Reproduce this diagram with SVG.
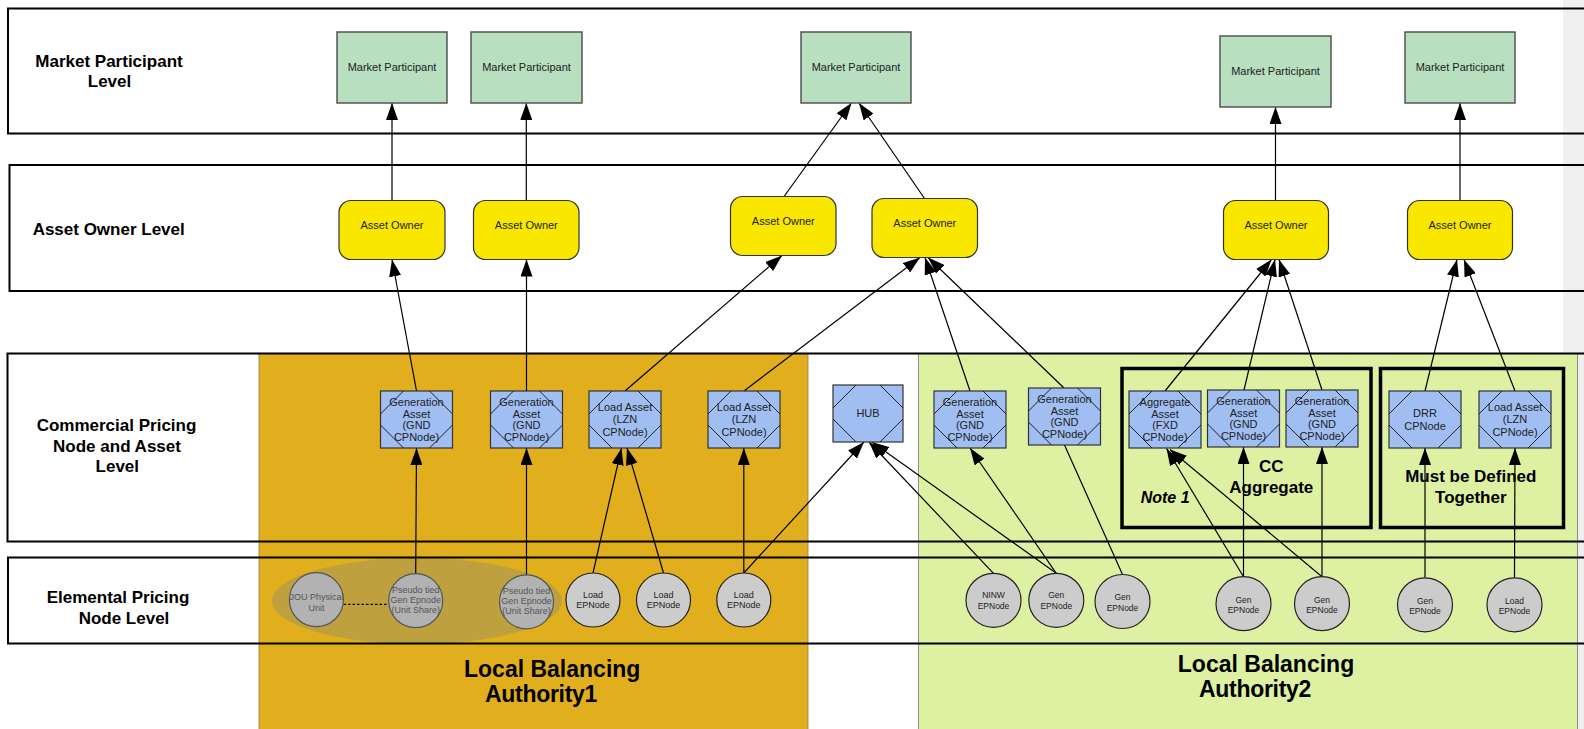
<svg xmlns="http://www.w3.org/2000/svg" width="1584" height="729" viewBox="0 0 1584 729">
<defs>
<style>
.band{fill:none;stroke:#000;stroke-width:2}
.lvl{font-family:"Liberation Sans",Arial,sans-serif;font-weight:bold;font-size:17px;text-anchor:middle;fill:#000}
.big{font-family:"Liberation Sans",Arial,sans-serif;font-weight:bold;font-size:23px;fill:#000}
.mp rect{fill:#B7DFC0;stroke:#555;stroke-width:1.5}
.ao rect{fill:#F9E700;stroke:#333;stroke-width:1.2}
.cp rect{fill:#A0BEF2;stroke:#333;stroke-width:1.2}
.cp path{fill:none;stroke:#222;stroke-width:1}
.t{font-family:"Liberation Sans",Arial,sans-serif;font-size:11px;text-anchor:middle;fill:#222}
.s{font-family:"Liberation Sans",Arial,sans-serif;font-size:9px;text-anchor:middle;fill:#222}
.sd{font-family:"Liberation Sans",Arial,sans-serif;font-size:9px;text-anchor:middle;fill:#555}
.ep circle,.ep ellipse{fill:#CCCCCC;stroke:#222;stroke-width:1.2}
.ep .dim{fill:#B2B2B2;stroke:#555}
.conn line{stroke:#000;stroke-width:1.2;fill:none}
.conn .a{marker-end:url(#ah)}
.grp{fill:none;stroke:#000;stroke-width:3.5}
</style>
<marker id="ah" markerUnits="userSpaceOnUse" markerWidth="17" markerHeight="12" refX="17" refY="6" orient="auto"><path d="M0,0 L17,6 L0,12 z" fill="#000"/></marker>
</defs>

<g id="background">
<rect x="0" y="0" width="1584" height="729" fill="#fff"/>
<rect x="1563" y="0" width="21" height="729" fill="#F0F0F0"/>
<rect id="lba1-region" x="259" y="353.5" width="549" height="380" fill="#E1AF1E" stroke="#8a7a50" stroke-width="0.8"/>
<rect id="lba2-region" x="918.5" y="353.5" width="659" height="380" fill="#DEF0A1" stroke="#777" stroke-width="0.8"/>
<ellipse cx="417" cy="601" rx="145" ry="43" fill="#BFA03F"/>
</g>

<g id="bands">
<rect class="band" x="8" y="8.5" width="1600" height="125"/>
<rect class="band" x="9.5" y="165" width="1600" height="126"/>
<rect class="band" x="7.5" y="353.5" width="1600" height="188"/>
<rect class="band" x="8" y="557.5" width="1600" height="86"/>
<text class="lvl" x="109" y="66.7">Market Participant</text>
<text class="lvl" x="109.5" y="87.3">Level</text>
<text class="lvl" x="108.7" y="234.7">Asset Owner Level</text>
<text class="lvl" x="116.5" y="430.7">Commercial Pricing</text>
<text class="lvl" x="117" y="451.7">Node and Asset</text>
<text class="lvl" x="117.3" y="472.3">Level</text>
<text class="lvl" x="118" y="603.3">Elemental Pricing</text>
<text class="lvl" x="124" y="624.3">Node Level</text>
</g>

<g id="groups">
<rect class="grp" x="1122" y="368.5" width="249" height="159"/>
<rect class="grp" x="1380.5" y="368.5" width="183" height="159"/>
<text class="lvl" x="1271.3" y="472">CC</text>
<text class="lvl" x="1271.3" y="492.5">Aggregate</text>
<text class="lvl" x="1140.7" y="503.4" style="text-anchor:start;font-style:italic;font-size:16px">Note 1</text>
<text class="lvl" x="1470.8" y="482">Must be Defined</text>
<text class="lvl" x="1470.8" y="502.5">Together</text>
<text class="big" x="552.2" y="676.7" text-anchor="middle">Local Balancing</text>
<text class="big" x="485" y="701.7" letter-spacing="-0.3">Authority1</text>
<text class="big" x="1266" y="671.7" text-anchor="middle">Local Balancing</text>
<text class="big" x="1199" y="696.7" letter-spacing="-0.3">Authority2</text>
</g>

<g id="connectors" class="conn">
<line class="a" x1="392" y1="200.5" x2="392" y2="103"/>
<line class="a" x1="526.3" y1="200.5" x2="526.3" y2="103"/>
<line class="a" x1="784" y1="196.5" x2="851.5" y2="103"/>
<line class="a" x1="924.5" y1="198.5" x2="859" y2="103"/>
<line class="a" x1="1275.5" y1="200.5" x2="1275.5" y2="107"/>
<line class="a" x1="1460" y1="200.5" x2="1460" y2="103"/>

<line class="a" x1="416.5" y1="391" x2="392" y2="259.5"/>
<line class="a" x1="526.5" y1="391" x2="526.5" y2="259.5"/>
<line class="a" x1="625" y1="391" x2="782" y2="255.5"/>
<line class="a" x1="744" y1="391" x2="920" y2="257.5"/>
<line class="a" x1="970" y1="391" x2="925" y2="257.5"/>
<line class="a" x1="1064" y1="388" x2="928" y2="257.5"/>
<line class="a" x1="1165" y1="391" x2="1271.5" y2="259.5"/>
<line class="a" x1="1244" y1="390" x2="1275" y2="259.5"/>
<line class="a" x1="1322" y1="390" x2="1279" y2="259.5"/>
<line class="a" x1="1425" y1="391" x2="1457" y2="259.5"/>
<line class="a" x1="1515" y1="391" x2="1464" y2="259.5"/>

<line class="a" x1="415.7" y1="573.7" x2="416.5" y2="448"/>
<line class="a" x1="526.5" y1="574.8" x2="526.5" y2="448"/>
<line class="a" x1="593" y1="573" x2="621.5" y2="448"/>
<line class="a" x1="663.5" y1="573" x2="627" y2="448"/>
<line class="a" x1="743.8" y1="573" x2="743.8" y2="448"/>
<line class="a" x1="743.8" y1="573" x2="864" y2="442"/>
<line class="a" x1="993.5" y1="573.3" x2="869" y2="442"/>
<line class="a" x1="1056.3" y1="573.3" x2="872" y2="442"/>
<line class="a" x1="1056.3" y1="573.3" x2="970" y2="448"/>
<line x1="1122.5" y1="574.5" x2="1064.5" y2="445"/>
<line class="a" x1="1243.5" y1="576.7" x2="1166.5" y2="448.5"/>
<line class="a" x1="1243.5" y1="576.7" x2="1243.5" y2="447"/>
<line class="a" x1="1322" y1="576.7" x2="1170" y2="449.5"/>
<line class="a" x1="1322" y1="576.7" x2="1322" y2="447"/>
<line class="a" x1="1425" y1="577.7" x2="1425" y2="448"/>
<line class="a" x1="1514.5" y1="577.7" x2="1515" y2="448"/>
<line x1="343.5" y1="604.3" x2="388.3" y2="604.3" stroke-dasharray="2.5,2"/>
</g>

<g id="mp1" class="mp"><rect x="337" y="32" width="110" height="71"/><text class="t" x="392" y="71.3">Market Participant</text></g>
<g id="mp2" class="mp"><rect x="471" y="32" width="111" height="71"/><text class="t" x="526.5" y="71.3">Market Participant</text></g>
<g id="mp3" class="mp"><rect x="801" y="32" width="110" height="71"/><text class="t" x="856" y="71.3">Market Participant</text></g>
<g id="mp4" class="mp"><rect x="1220" y="36" width="111" height="71"/><text class="t" x="1275.5" y="75.3">Market Participant</text></g>
<g id="mp5" class="mp"><rect x="1405" y="32" width="110" height="71"/><text class="t" x="1460" y="71.3">Market Participant</text></g>

<g id="ao1" class="ao"><rect x="339" y="200.5" width="106" height="59" rx="12"/><text class="t" x="392" y="228.8">Asset Owner</text></g>
<g id="ao2" class="ao"><rect x="473.5" y="200.5" width="105.5" height="59" rx="12"/><text class="t" x="526.3" y="228.8">Asset Owner</text></g>
<g id="ao3" class="ao"><rect x="730.5" y="196.5" width="105.5" height="59" rx="12"/><text class="t" x="783.3" y="224.8">Asset Owner</text></g>
<g id="ao4" class="ao"><rect x="872" y="198.5" width="105.5" height="59" rx="12"/><text class="t" x="924.8" y="226.8">Asset Owner</text></g>
<g id="ao5" class="ao"><rect x="1223.5" y="200.5" width="105" height="59" rx="12"/><text class="t" x="1276" y="228.8">Asset Owner</text></g>
<g id="ao6" class="ao"><rect x="1407.5" y="200.5" width="105" height="59" rx="12"/><text class="t" x="1460" y="228.8">Asset Owner</text></g>

<g id="cp-ga1" class="cp" transform="translate(380.5,391)"><rect width="72" height="57"/><path d="M23,0 l-23,23 M0,34 l23,23 M49,0 l23,23 M72,34 l-23,23"/><text class="t" x="36"><tspan x="36" y="14.8">Generation</tspan><tspan x="36" y="26.6">Asset</tspan><tspan x="36" y="38.4">(GND</tspan><tspan x="36" y="50.2">CPNode)</tspan></text></g>
<g id="cp-ga2" class="cp" transform="translate(490.5,391)"><rect width="72" height="57"/><path d="M23,0 l-23,23 M0,34 l23,23 M49,0 l23,23 M72,34 l-23,23"/><text class="t" x="36"><tspan x="36" y="14.8">Generation</tspan><tspan x="36" y="26.6">Asset</tspan><tspan x="36" y="38.4">(GND</tspan><tspan x="36" y="50.2">CPNode)</tspan></text></g>
<g id="cp-la1" class="cp" transform="translate(589,391)"><rect width="72" height="57"/><path d="M23,0 l-23,23 M0,34 l23,23 M49,0 l23,23 M72,34 l-23,23"/><text class="t" x="36"><tspan x="36" y="19.7">Load Asset</tspan><tspan x="36" y="32.3">(LZN</tspan><tspan x="36" y="45">CPNode)</tspan></text></g>
<g id="cp-la2" class="cp" transform="translate(708,391)"><rect width="72" height="57"/><path d="M23,0 l-23,23 M0,34 l23,23 M49,0 l23,23 M72,34 l-23,23"/><text class="t" x="36"><tspan x="36" y="19.7">Load Asset</tspan><tspan x="36" y="32.3">(LZN</tspan><tspan x="36" y="45">CPNode)</tspan></text></g>
<g id="cp-hub" class="cp" transform="translate(833,385)"><rect width="70" height="57"/><path d="M23,0 l-23,23 M0,34 l23,23 M47,0 l23,23 M70,34 l-23,23"/><text class="t" x="35" y="32">HUB</text></g>
<g id="cp-ga3" class="cp" transform="translate(934,391)"><rect width="72" height="57"/><path d="M23,0 l-23,23 M0,34 l23,23 M49,0 l23,23 M72,34 l-23,23"/><text class="t" x="36"><tspan x="36" y="14.8">Generation</tspan><tspan x="36" y="26.6">Asset</tspan><tspan x="36" y="38.4">(GND</tspan><tspan x="36" y="50.2">CPNode)</tspan></text></g>
<g id="cp-ga4" class="cp" transform="translate(1028.5,388)"><rect width="72" height="57"/><path d="M23,0 l-23,23 M0,34 l23,23 M49,0 l23,23 M72,34 l-23,23"/><text class="t" x="36"><tspan x="36" y="14.8">Generation</tspan><tspan x="36" y="26.6">Asset</tspan><tspan x="36" y="38.4">(GND</tspan><tspan x="36" y="50.2">CPNode)</tspan></text></g>
<g id="cp-agg" class="cp" transform="translate(1129,391)"><rect width="72" height="57"/><path d="M23,0 l-23,23 M0,34 l23,23 M49,0 l23,23 M72,34 l-23,23"/><text class="t" x="36"><tspan x="36" y="14.8">Aggregate</tspan><tspan x="36" y="26.6">Asset</tspan><tspan x="36" y="38.4">(FXD</tspan><tspan x="36" y="50.2">CPNode)</tspan></text></g>
<g id="cp-ga5" class="cp" transform="translate(1207.5,390)"><rect width="72" height="57"/><path d="M23,0 l-23,23 M0,34 l23,23 M49,0 l23,23 M72,34 l-23,23"/><text class="t" x="36"><tspan x="36" y="14.8">Generation</tspan><tspan x="36" y="26.6">Asset</tspan><tspan x="36" y="38.4">(GND</tspan><tspan x="36" y="50.2">CPNode)</tspan></text></g>
<g id="cp-ga6" class="cp" transform="translate(1286,390)"><rect width="72" height="57"/><path d="M23,0 l-23,23 M0,34 l23,23 M49,0 l23,23 M72,34 l-23,23"/><text class="t" x="36"><tspan x="36" y="14.8">Generation</tspan><tspan x="36" y="26.6">Asset</tspan><tspan x="36" y="38.4">(GND</tspan><tspan x="36" y="50.2">CPNode)</tspan></text></g>
<g id="cp-drr" class="cp" transform="translate(1389,391)"><rect width="72" height="57"/><path d="M23,0 l-23,23 M0,34 l23,23 M49,0 l23,23 M72,34 l-23,23"/><text class="t" x="36"><tspan x="36" y="26.3">DRR</tspan><tspan x="36" y="39.3">CPNode</tspan></text></g>
<g id="cp-la3" class="cp" transform="translate(1479,391)"><rect width="72" height="57"/><path d="M23,0 l-23,23 M0,34 l23,23 M49,0 l23,23 M72,34 l-23,23"/><text class="t" x="36"><tspan x="36" y="19.7">Load Asset</tspan><tspan x="36" y="32.3">(LZN</tspan><tspan x="36" y="45">CPNode)</tspan></text></g>

<g id="ep-jou" class="ep"><circle class="dim" cx="316.4" cy="599.7" r="27"/><text class="sd"><tspan x="316.4" y="600">JOU Physical</tspan><tspan x="316.4" y="611">Unit</tspan></text></g>
<g id="ep-pseudo1" class="ep"><circle class="dim" cx="415.7" cy="600.7" r="27"/><text class="sd"><tspan x="415.7" y="593.3">Pseudo tied</tspan><tspan x="415.7" y="602.7">Gen Epnode</tspan><tspan x="415.7" y="612.7">(Unit Share)</tspan></text></g>
<g id="ep-pseudo2" class="ep"><circle class="dim" cx="526.5" cy="601.8" r="27"/><text class="sd"><tspan x="526.5" y="594.3">Pseudo tied</tspan><tspan x="526.5" y="603.8">Gen Epnode</tspan><tspan x="526.5" y="613.8">(Unit Share)</tspan></text></g>
<g id="ep-load1" class="ep"><circle cx="593" cy="600" r="27"/><text class="s"><tspan x="593" y="598.3">Load</tspan><tspan x="593" y="608.3">EPNode</tspan></text></g>
<g id="ep-load2" class="ep"><circle cx="663.5" cy="600" r="27"/><text class="s"><tspan x="663.5" y="598.3">Load</tspan><tspan x="663.5" y="608.3">EPNode</tspan></text></g>
<g id="ep-load3" class="ep"><circle cx="743.8" cy="600" r="27"/><text class="s"><tspan x="743.8" y="598.3">Load</tspan><tspan x="743.8" y="608.3">EPNode</tspan></text></g>
<g id="ep-ninw" class="ep"><ellipse cx="993.5" cy="600.3" rx="27.5" ry="27"/><text class="s" style="font-size:8.5px"><tspan x="993.5" y="598.3">NINW</tspan><tspan x="993.5" y="609.3">EPNode</tspan></text></g>
<g id="ep-gen1" class="ep"><ellipse cx="1056.3" cy="600.3" rx="27.5" ry="27"/><text class="s" style="font-size:8.5px"><tspan x="1056.3" y="598.3">Gen</tspan><tspan x="1056.3" y="609.3">EPNode</tspan></text></g>
<g id="ep-gen2" class="ep"><ellipse cx="1122.5" cy="601.5" rx="27.5" ry="27"/><text class="s" style="font-size:8.5px"><tspan x="1122.5" y="600">Gen</tspan><tspan x="1122.5" y="610.5">EPNode</tspan></text></g>
<g id="ep-gen3" class="ep"><ellipse cx="1243.5" cy="603.7" rx="27.5" ry="27"/><text class="s" style="font-size:8.5px"><tspan x="1243.5" y="602.7">Gen</tspan><tspan x="1243.5" y="612.7">EPNode</tspan></text></g>
<g id="ep-gen4" class="ep"><ellipse cx="1322" cy="603.7" rx="27.5" ry="27"/><text class="s" style="font-size:8.5px"><tspan x="1322" y="602.7">Gen</tspan><tspan x="1322" y="612.7">EPNode</tspan></text></g>
<g id="ep-gen5" class="ep"><ellipse cx="1425" cy="604.8" rx="27.5" ry="27"/><text class="s" style="font-size:8.5px"><tspan x="1425" y="603.8">Gen</tspan><tspan x="1425" y="613.8">EPNode</tspan></text></g>
<g id="ep-load4" class="ep"><ellipse cx="1514.5" cy="604.8" rx="27.5" ry="27"/><text class="s" style="font-size:8.5px"><tspan x="1514.5" y="603.8">Load</tspan><tspan x="1514.5" y="613.8">EPNode</tspan></text></g>
</svg>
